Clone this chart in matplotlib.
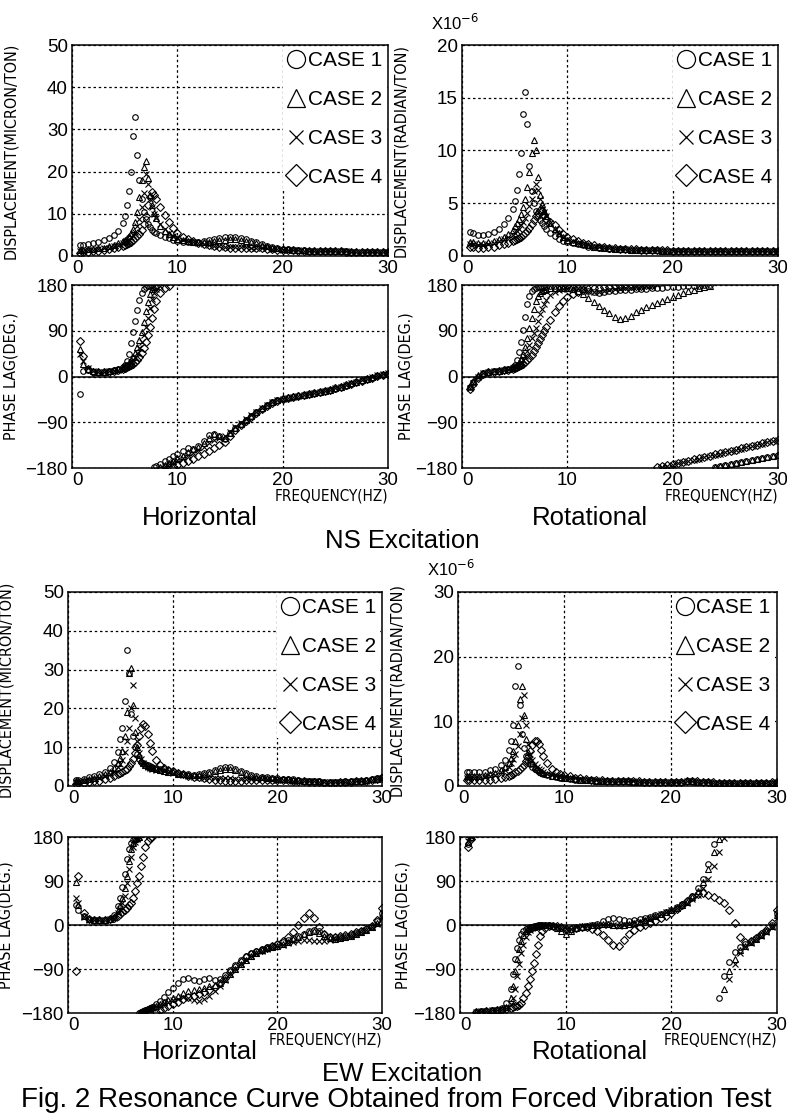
import matplotlib
matplotlib.use('Agg')
import matplotlib.pyplot as plt
from matplotlib.lines import Line2D
from matplotlib import font_manager

# frequency points (Hz) shared by all curves
freq = [0.8, 1.0, 1.5, 2.0, 2.5, 3.0, 3.5, 4.0, 4.4, 4.8,
        5.0, 5.2, 5.4, 5.6, 5.8, 6.0, 6.2, 6.4, 6.6, 6.8, 7.0, 7.2, 7.4, 7.6, 7.8, 8.0, 8.4, 8.8, 9.2, 9.6, 10.0,
        10.5, 11.0, 11.5, 12.0, 12.5, 13.0, 13.5, 14.0, 14.5, 15.0, 15.5, 16.0, 16.5, 17.0, 17.5, 18.0, 18.5, 19.0, 19.5, 20.0,
        20.5, 21.0, 21.5, 22.0, 22.5, 23.0, 23.5, 24.0, 24.5, 25.0, 25.5, 26.0, 26.5, 27.0, 27.5, 28.0, 28.5, 29.0, 29.5, 30.0]

case_labels = ['CASE 1', 'CASE 2', 'CASE 3', 'CASE 4']
x_ticks = [0, 10, 20, 30]

# ---- NS excitation, horizontal displacement (micron/ton)
ns_hor_amp_1 = [2.5, 2.6, 2.9, 3.1, 3.4, 3.7, 4.2, 5.0, 6.0, 7.8,
                9.5, 12.0, 15.5, 20.0, 28.5, 33.0, 24.0, 18.0, 13.5, 10.5, 8.8, 7.6, 6.8, 6.2, 5.8, 5.4, 4.9, 4.5, 4.2, 3.9, 3.6,
                3.4, 3.3, 3.3, 3.4, 3.6, 3.8, 4.0, 4.2, 4.4, 4.5, 4.5, 4.3, 4.0, 3.6, 3.2, 2.8, 2.4, 2.1, 1.9, 1.7,
                1.6, 1.5, 1.4, 1.4, 1.3, 1.3, 1.2, 1.2, 1.2, 1.1, 1.1, 1.1, 1.0, 1.0, 1.0, 1.0, 1.0, 1.0, 1.0, 1.0]
ns_hor_amp_2 = [1.5, 1.5, 1.6, 1.7, 1.8, 2.0, 2.3, 2.6, 3.0, 3.5,
                3.8, 4.2, 4.8, 5.5, 6.5, 8.0, 10.5, 14.0, 18.0, 21.0, 22.5, 18.5, 14.5, 12.0, 10.2, 9.0, 7.2, 6.0, 5.2, 4.6, 4.1,
                3.8, 3.5, 3.3, 3.2, 3.2, 3.3, 3.5, 3.7, 3.9, 4.0, 4.0, 3.9, 3.6, 3.3, 3.0, 2.6, 2.3, 2.0, 1.8, 1.7,
                1.6, 1.5, 1.4, 1.4, 1.3, 1.3, 1.2, 1.2, 1.2, 1.1, 1.1, 1.1, 1.0, 1.0, 1.0, 1.0, 1.0, 1.0, 1.0, 1.0]
ns_hor_amp_3 = [1.3, 1.3, 1.4, 1.5, 1.6, 1.8, 2.0, 2.3, 2.6, 3.0,
                3.2, 3.5, 3.9, 4.4, 5.0, 5.8, 7.0, 8.8, 11.5, 15.0, 19.5, 17.0, 13.5, 11.5, 10.0, 9.0, 7.5, 6.3, 5.4, 4.7, 4.2,
                3.8, 3.5, 3.2, 3.0, 2.8, 2.6, 2.4, 2.3, 2.2, 2.1, 2.1, 2.1, 2.1, 2.0, 2.0, 1.9, 1.8, 1.7, 1.6, 1.5,
                1.5, 1.4, 1.4, 1.3, 1.3, 1.3, 1.2, 1.2, 1.2, 1.1, 1.1, 1.1, 1.0, 1.0, 1.0, 1.0, 1.0, 1.0, 1.0, 1.0]
ns_hor_amp_4 = [0.8, 0.9, 1.0, 1.1, 1.2, 1.4, 1.6, 1.8, 2.1, 2.4,
                2.6, 2.8, 3.1, 3.4, 3.8, 4.2, 4.7, 5.3, 6.2, 7.5, 9.5, 12.0, 14.0, 15.2, 14.5, 13.5, 11.5, 9.6, 8.0, 6.6, 5.5,
                4.6, 4.0, 3.5, 3.1, 2.8, 2.5, 2.3, 2.2, 2.1, 2.0, 2.0, 2.0, 2.0, 1.9, 1.9, 1.8, 1.7, 1.6, 1.5, 1.5,
                1.4, 1.4, 1.3, 1.3, 1.3, 1.2, 1.2, 1.2, 1.1, 1.1, 1.1, 1.0, 1.0, 1.0, 1.0, 1.0, 1.0, 1.0, 1.0, 1.0]

# ---- NS excitation, horizontal phase lag (deg)
ns_hor_ph_1 = [-35, 10, 12, 8, 8, 9, 10, 12, 15, 18,
               22, 30, 45, 65, 88, 110, 130, 150, 165, 173, 177, 179, 179, 180, -179, -177, -172, -167, -162, -157, -152,
               -147, -140, -143, -136, -126, -116, -113, -118, -122, -112, -102, -94, -86, -78, -70, -63, -57, -51, -47, -44,
               -42, -40, -38, -37, -35, -33, -31, -29, -27, -24, -21, -18, -14, -11, -8, -5, -2, 1, 3, 5]
ns_hor_ph_2 = [55, 25, 15, 10, 9, 9, 10, 12, 14, 17,
               20, 23, 27, 32, 38, 46, 58, 72, 88, 108, 128, 147, 162, 172, 177, 179, -178, -174, -170, -166, -161,
               -156, -148, -142, -138, -130, -120, -114, -117, -120, -111, -101, -93, -85, -77, -69, -62, -56, -50, -46, -43,
               -41, -39, -37, -36, -34, -32, -30, -28, -26, -23, -20, -17, -13, -10, -7, -4, -1, 2, 4, 6]
ns_hor_ph_3 = [45, 30, 16, 10, 9, 9, 10, 11, 13, 15,
               18, 20, 23, 27, 32, 38, 46, 56, 68, 82, 98, 116, 135, 152, 165, 173, 179, -177, -173, -169, -165,
               -160, -155, -150, -145, -138, -130, -124, -120, -118, -110, -100, -92, -84, -76, -69, -62, -56, -51, -47, -44,
               -42, -40, -38, -36, -34, -32, -30, -28, -26, -23, -20, -17, -13, -10, -7, -4, -1, 2, 4, 7]
ns_hor_ph_4 = [70, 40, 14, 9, 8, 8, 9, 10, 12, 14,
               16, 18, 20, 22, 25, 28, 32, 38, 46, 56, 68, 82, 98, 115, 132, 148, 165, 175, 179, -178, -175,
               -171, -167, -162, -157, -152, -147, -141, -135, -128, -118, -106, -96, -87, -79, -71, -64, -58, -52, -48, -45,
               -42, -40, -38, -36, -34, -32, -30, -28, -26, -23, -20, -17, -14, -11, -8, -5, -2, 1, 3, 5]

# ---- NS excitation, rotational displacement (x1e-6 radian/ton)
ns_rot_amp_1 = [2.3, 2.2, 2.0, 2.0, 2.1, 2.3, 2.6, 3.0, 3.6, 4.5,
                5.2, 6.3, 7.8, 9.8, 13.5, 15.5, 12.5, 8.5, 6.2, 5.0, 4.3, 3.8, 3.4, 3.1, 2.8, 2.6, 2.2, 1.9, 1.6, 1.4, 1.3,
                1.2, 1.1, 1.0, 0.9, 0.85, 0.8, 0.75, 0.7, 0.7, 0.65, 0.65, 0.6, 0.6, 0.6, 0.55, 0.55, 0.55, 0.5, 0.5, 0.5,
                0.5, 0.5, 0.5, 0.5, 0.5, 0.5, 0.5, 0.5, 0.5, 0.5, 0.5, 0.5, 0.5, 0.5, 0.5, 0.5, 0.5, 0.5, 0.5, 0.5]
ns_rot_amp_2 = [1.3, 1.3, 1.2, 1.2, 1.3, 1.4, 1.6, 1.8, 2.1, 2.5,
                2.8, 3.1, 3.5, 4.0, 4.6, 5.4, 6.5, 8.0, 9.8, 11.0, 10.0, 7.5, 5.8, 4.9, 4.3, 3.8, 3.1, 2.6, 2.2, 1.8, 1.5,
                1.3, 1.2, 1.1, 1.0, 0.9, 0.85, 0.8, 0.75, 0.7, 0.7, 0.65, 0.6, 0.6, 0.6, 0.55, 0.55, 0.55, 0.5, 0.5, 0.5,
                0.5, 0.5, 0.5, 0.5, 0.5, 0.5, 0.5, 0.5, 0.5, 0.5, 0.5, 0.5, 0.5, 0.5, 0.5, 0.5, 0.5, 0.5, 0.5, 0.5]
ns_rot_amp_3 = [1.1, 1.1, 1.0, 1.0, 1.1, 1.2, 1.4, 1.6, 1.8, 2.0,
                2.2, 2.4, 2.6, 2.9, 3.2, 3.6, 4.1, 4.7, 5.4, 6.2, 6.8, 6.3, 5.4, 4.7, 4.2, 3.8, 3.1, 2.6, 2.2, 1.8, 1.6,
                1.4, 1.2, 1.1, 1.0, 0.9, 0.85, 0.8, 0.75, 0.7, 0.7, 0.65, 0.6, 0.6, 0.6, 0.55, 0.55, 0.55, 0.5, 0.5, 0.5,
                0.5, 0.5, 0.5, 0.5, 0.5, 0.5, 0.5, 0.5, 0.5, 0.5, 0.5, 0.5, 0.5, 0.5, 0.5, 0.5, 0.5, 0.5, 0.5, 0.5]
ns_rot_amp_4 = [0.9, 0.9, 0.8, 0.8, 0.9, 0.9, 1.0, 1.1, 1.2, 1.4,
                1.5, 1.6, 1.7, 1.8, 2.0, 2.2, 2.4, 2.7, 3.0, 3.4, 3.8, 4.1, 4.4, 4.3, 3.9, 3.5, 3.2, 2.9, 2.5, 2.1, 1.8,
                1.6, 1.4, 1.2, 1.1, 1.0, 0.9, 0.85, 0.8, 0.75, 0.7, 0.7, 0.65, 0.65, 0.6, 0.6, 0.6, 0.55, 0.55, 0.55, 0.5,
                0.5, 0.5, 0.5, 0.5, 0.5, 0.5, 0.5, 0.5, 0.5, 0.5, 0.5, 0.5, 0.5, 0.5, 0.5, 0.5, 0.5, 0.5, 0.5, 0.5]

# ---- NS excitation, rotational phase lag (deg)
ns_rot_ph_1 = [-20, -10, 0, 6, 8, 10, 11, 13, 15, 18,
               22, 32, 48, 68, 92, 118, 142, 158, 168, 173, 175, 176, 176, 177, 177, 177, 178, 178, 178, 178, 178,
               177, 175, 172, 169, 166, 165, 166, 168, 169, 170, 170, 171, 172, 172, 173, 174, 175, 175, 176, 177,
               177, 178, 178, 179, 179, 180, 180, -179, -176, -174, -172, -170, -168, -166, -164, -162, -160, -158, -156, -154]
ns_rot_ph_2 = [-18, -8, 2, 7, 9, 10, 11, 12, 14, 16,
               19, 22, 27, 34, 44, 58, 75, 95, 115, 133, 148, 158, 164, 168, 170, 172, 174, 175, 175, 175, 174,
               172, 168, 162, 155, 147, 139, 131, 124, 118, 114, 115, 120, 126, 131, 136, 141, 145, 149, 153, 156,
               160, 164, 168, 171, 174, 177, 179, -179, -177, -175, -173, -171, -169, -167, -165, -163, -161, -159, -157, -155]
ns_rot_ph_3 = [-22, -12, 0, 6, 8, 10, 11, 13, 14, 16,
               18, 20, 23, 27, 32, 40, 50, 62, 75, 85, 96, 110, 122, 133, 142, 150, 160, 166, 170, 172, 173,
               174, 175, 172, 168, 166, 167, 169, 171, 172, 173, 174, 175, 176, 177, 178, 179, 180, -178, -176, -174,
               -171, -169, -167, -164, -162, -159, -157, -154, -152, -149, -147, -144, -142, -139, -137, -134, -132, -129, -127, -124]
ns_rot_ph_4 = [-24, -14, -2, 5, 8, 9, 10, 12, 13, 15,
               16, 18, 20, 22, 25, 28, 32, 37, 43, 50, 58, 66, 74, 82, 90, 98, 112, 126, 138, 148, 156,
               162, 167, 170, 172, 174, 175, 176, 177, 178, 178, 178, 179, 179, 179, 180, 180, -179, -177, -175, -173,
               -171, -168, -166, -163, -161, -158, -156, -153, -151, -149, -146, -144, -141, -139, -136, -134, -131, -129, -127, -125]

# ---- EW excitation, horizontal displacement (micron/ton)
ew_hor_amp_1 = [1.5, 1.6, 1.9, 2.2, 2.6, 3.0, 3.6, 4.6, 6.2, 8.8,
                12.0, 15.0, 22.0, 35.0, 29.0, 18.5, 13.0, 10.0, 8.2, 7.0, 6.3, 5.9, 5.6, 5.3, 5.1, 4.9, 4.6, 4.4, 4.3, 4.1, 3.8,
                3.4, 3.1, 3.0, 2.9, 3.0, 3.3, 3.7, 4.2, 4.7, 5.0, 4.9, 4.5, 3.9, 3.3, 2.9, 2.6, 2.4, 2.2, 2.1, 2.0,
                1.9, 1.8, 1.7, 1.6, 1.4, 1.3, 1.2, 1.2, 1.1, 1.1, 1.1, 1.1, 1.2, 1.2, 1.3, 1.4, 1.6, 1.8, 2.0, 2.3]
ew_hor_amp_2 = [1.2, 1.3, 1.5, 1.8, 2.1, 2.5, 3.0, 3.7, 4.6, 6.0,
                7.2, 9.0, 13.0, 19.0, 29.0, 30.5, 21.0, 14.0, 10.0, 8.0, 6.8, 6.0, 5.5, 5.1, 4.8, 4.6, 4.3, 4.1, 3.9, 3.7, 3.5,
                3.2, 3.0, 2.9, 2.8, 2.9, 3.1, 3.4, 3.8, 4.2, 4.5, 4.4, 4.0, 3.5, 3.0, 2.7, 2.4, 2.2, 2.1, 2.0, 1.9,
                1.8, 1.7, 1.6, 1.5, 1.4, 1.3, 1.2, 1.2, 1.1, 1.1, 1.1, 1.1, 1.1, 1.2, 1.3, 1.4, 1.5, 1.7, 1.9, 2.2]
ew_hor_amp_3 = [1.0, 1.1, 1.3, 1.5, 1.8, 2.1, 2.5, 3.1, 3.8, 4.8,
                5.6, 6.8, 8.8, 11.5, 15.0, 20.0, 26.0, 17.5, 11.5, 8.5, 7.0, 6.0, 5.4, 5.0, 4.7, 4.5, 4.2, 4.0, 3.8, 3.6, 3.4,
                3.1, 2.8, 2.6, 2.4, 2.2, 2.1, 2.0, 2.0, 2.0, 2.0, 2.0, 1.9, 1.9, 1.9, 1.8, 1.8, 1.7, 1.7, 1.6, 1.6,
                1.5, 1.5, 1.4, 1.4, 1.3, 1.2, 1.2, 1.1, 1.1, 1.0, 1.0, 1.0, 1.1, 1.1, 1.2, 1.3, 1.4, 1.6, 1.8, 2.0]
ew_hor_amp_4 = [0.6, 0.7, 0.8, 1.0, 1.2, 1.4, 1.7, 2.1, 2.5, 3.0,
                3.3, 3.6, 4.0, 4.5, 5.1, 5.9, 7.0, 8.5, 10.5, 13.0, 15.0, 16.0, 15.5, 13.5, 11.0, 9.0, 6.8, 5.5, 4.7, 4.2, 3.8,
                3.4, 3.0, 2.7, 2.4, 2.2, 2.0, 1.8, 1.6, 1.5, 1.4, 1.4, 1.4, 1.4, 1.5, 1.5, 1.6, 1.6, 1.6, 1.6, 1.6,
                1.5, 1.5, 1.4, 1.3, 1.2, 1.1, 1.0, 1.0, 0.9, 0.9, 0.9, 1.0, 1.0, 1.1, 1.2, 1.3, 1.4, 1.6, 1.8, 2.1]

# ---- EW excitation, horizontal phase lag (deg)
ew_hor_ph_1 = [40, 30, 18, 12, 10, 10, 11, 13, 20, 38,
               55, 78, 105, 135, 155, 168, 174, 177, 179, -179, -177, -175, -173, -171, -169, -167, -162, -156, -148, -138, -128,
               -118, -110, -108, -112, -114, -110, -108, -112, -110, -102, -92, -82, -72, -64, -58, -53, -49, -45, -42, -38,
               -34, -30, -26, -22, -18, -12, -10, -12, -18, -24, -25, -24, -22, -20, -17, -13, -8, -2, 8, 25]
ew_hor_ph_2 = [88, 40, 18, 12, 10, 10, 11, 12, 16, 28,
               40, 55, 75, 100, 130, 155, 168, 175, 178, 180, -178, -176, -174, -172, -170, -168, -165, -161, -157, -153, -149,
               -145, -140, -135, -132, -130, -128, -125, -122, -118, -110, -100, -90, -80, -71, -63, -57, -52, -48, -45, -42,
               -38, -34, -29, -24, -18, -14, -12, -16, -22, -27, -28, -27, -25, -22, -19, -15, -10, -4, 5, 20]
ew_hor_ph_3 = [55, 45, 17, 11, 10, 10, 11, 12, 15, 24,
               33, 45, 60, 85, 115, 140, 160, 170, 176, 179, -179, -177, -175, -173, -171, -169, -166, -163, -160, -157, -154,
               -151, -148, -150, -153, -155, -152, -145, -136, -124, -112, -100, -90, -80, -71, -64, -58, -53, -49, -46, -43,
               -40, -37, -34, -32, -31, -31, -32, -33, -32, -30, -28, -26, -24, -22, -19, -15, -11, -5, 3, 15]
ew_hor_ph_4 = [-95, 100, 25, 12, 10, 10, 11, 12, 14, 18,
               22, 26, 30, 35, 40, 45, 55, 70, 85, 100, 120, 140, 160, 172, 178, 180, -178, -174, -170, -166, -162,
               -158, -152, -148, -145, -142, -138, -133, -126, -118, -108, -97, -86, -75, -66, -60, -55, -51, -47, -43, -38,
               -32, -24, -14, 0, 15, 25, 15, -5, -18, -24, -24, -22, -20, -18, -15, -12, -8, -2, 10, 35]

# ---- EW excitation, rotational displacement (x1e-6 radian/ton)
ew_rot_amp_1 = [2.2, 2.2, 2.1, 2.1, 2.2, 2.4, 2.7, 3.2, 4.0, 5.5,
                7.0, 9.5, 15.5, 18.5, 12.5, 8.0, 5.8, 4.6, 3.9, 3.4, 3.0, 2.7, 2.4, 2.2, 2.0, 1.9, 1.7, 1.5, 1.4, 1.3, 1.2,
                1.1, 1.0, 1.0, 0.9, 0.9, 0.85, 0.8, 0.8, 0.75, 0.7, 0.7, 0.7, 0.65, 0.65, 0.65, 0.6, 0.6, 0.6, 0.6, 0.6,
                0.6, 0.65, 0.7, 0.7, 0.65, 0.6, 0.55, 0.5, 0.45, 0.4, 0.4, 0.4, 0.4, 0.4, 0.4, 0.45, 0.45, 0.5, 0.5, 0.55]
ew_rot_amp_2 = [1.6, 1.6, 1.6, 1.6, 1.7, 1.8, 2.0, 2.4, 2.9, 3.6,
                4.4, 5.4, 7.0, 9.5, 13.5, 15.5, 11.0, 7.2, 5.2, 4.2, 3.5, 3.0, 2.6, 2.4, 2.2, 2.0, 1.8, 1.6, 1.5, 1.4, 1.3,
                1.2, 1.1, 1.0, 1.0, 0.9, 0.85, 0.8, 0.8, 0.75, 0.7, 0.7, 0.7, 0.65, 0.65, 0.65, 0.6, 0.6, 0.6, 0.6, 0.6,
                0.6, 0.65, 0.7, 0.7, 0.65, 0.6, 0.55, 0.5, 0.45, 0.4, 0.4, 0.4, 0.4, 0.4, 0.4, 0.45, 0.45, 0.5, 0.5, 0.55]
ew_rot_amp_3 = [1.3, 1.3, 1.3, 1.3, 1.4, 1.5, 1.7, 2.1, 2.5, 3.0,
                3.5, 4.2, 5.0, 6.2, 8.0, 10.5, 14.0, 9.5, 6.5, 5.0, 4.0, 3.4, 3.0, 2.7, 2.4, 2.2, 1.9, 1.7, 1.6, 1.5, 1.4,
                1.3, 1.2, 1.1, 1.0, 1.0, 0.9, 0.85, 0.8, 0.8, 0.75, 0.7, 0.7, 0.7, 0.65, 0.65, 0.65, 0.6, 0.6, 0.6, 0.6,
                0.6, 0.65, 0.7, 0.7, 0.65, 0.6, 0.55, 0.5, 0.45, 0.4, 0.4, 0.4, 0.4, 0.4, 0.4, 0.45, 0.45, 0.5, 0.5, 0.55]
ew_rot_amp_4 = [1.0, 1.0, 0.9, 0.9, 0.9, 1.0, 1.1, 1.2, 1.4, 1.6,
                1.7, 1.9, 2.1, 2.3, 2.6, 2.9, 3.3, 3.8, 4.5, 5.4, 6.3, 6.9, 7.0, 6.5, 5.6, 4.7, 3.5, 2.7, 2.2, 1.9, 1.7,
                1.5, 1.3, 1.2, 1.1, 1.0, 0.95, 0.9, 0.85, 0.8, 0.8, 0.75, 0.7, 0.7, 0.7, 0.65, 0.65, 0.65, 0.6, 0.6, 0.6,
                0.6, 0.65, 0.7, 0.75, 0.7, 0.65, 0.6, 0.55, 0.5, 0.45, 0.45, 0.4, 0.4, 0.4, 0.4, 0.45, 0.45, 0.5, 0.55, 0.6]

# ---- EW excitation, rotational phase lag (deg)
ew_rot_ph_1 = [165, 178, -178, -176, -175, -174, -173, -170, -160, -130,
               -100, -70, -48, -30, -18, -12, -8, -6, -5, -4, -3, -2, -1, 0, 0, 0, -1, -2, -4, -6, -8,
               -8, -6, -4, -2, 0, 3, 8, 13, 15, 13, 10, 9, 10, 12, 14, 17, 20, 23, 27, 31,
               36, 42, 50, 60, 75, 95, 125, 165, -150, -105, -75, -55, -45, -38, -32, -26, -20, -12, 0, 25]
ew_rot_ph_2 = [170, 179, -177, -176, -175, -174, -173, -172, -168, -150,
               -125, -95, -70, -50, -32, -20, -13, -9, -6, -5, -4, -3, -2, -1, 0, 0, -1, -2, -6, -12, -18,
               -12, -7, -4, -2, 0, 1, 2, 2, 1, 0, 1, 2, 4, 7, 10, 14, 18, 22, 26, 30,
               35, 41, 48, 57, 70, 88, 115, 150, 175, -130, -95, -70, -52, -42, -34, -28, -21, -13, -2, 20]
ew_rot_ph_3 = [172, 180, -177, -176, -175, -174, -173, -172, -170, -162,
               -150, -130, -105, -80, -58, -40, -25, -15, -10, -7, -5, -4, -3, -2, -1, 0, -1, -2, -4, -6, -9,
               -8, -5, -3, -2, -1, 0, 0, 0, -1, -2, 0, 3, 6, 9, 12, 15, 19, 23, 27, 31,
               35, 40, 46, 53, 62, 75, 95, 120, 150, 178, -110, -80, -58, -45, -36, -29, -22, -14, -4, 15]
ew_rot_ph_4 = [160, 176, -178, -177, -176, -175, -174, -173, -171, -169,
               -168, -166, -165, -163, -160, -150, -140, -125, -110, -95, -78, -60, -40, -22, -12, -6, -3, -2, -3, -5, -8,
               -8, -6, -4, -5, -8, -12, -20, -30, -40, -43, -30, -18, -10, -4, 0, 5, 9, 14, 19, 25,
               32, 40, 50, 58, 64, 66, 62, 58, 52, 45, 30, 5, -25, -35, -32, -26, -19, -10, 5, 30]

W, H = 787, 1118
markers = ['o', '^', 'x', 'D']
msizes = [4.0, 4.2, 4.0, 3.6]
leg_sizes = [13, 13, 10, 11]

names = {f.name for f in font_manager.fontManager.ttflist}
if 'Liberation Sans Narrow' in names:
    NARROW = dict(family='Liberation Sans Narrow')
else:
    NARROW = dict(family='DejaVu Sans', stretch='condensed')
plt.rcParams['font.family'] = ['Liberation Sans', 'DejaVu Sans']


def px_axes(fig, left, right, top, bottom):
    # axes placed by its pixel box in the reference
    return fig.add_axes([left / W, 1 - bottom / H, (right - left) / W, (bottom - top) / H])


def style_axes(ax, yticks):
    ax.set_xlim(0, 30)
    ax.set_ylim(yticks[0], yticks[-1])
    ax.set_xticks(x_ticks)
    ax.set_xticklabels([str(t) for t in x_ticks])
    ax.get_xticklabels()[0].set_horizontalalignment('left')  # keep clear of the y "0"
    ax.set_yticks(yticks)
    ax.grid(True, color='black', linestyle=(0, (2, 2.2)), linewidth=0.9)
    ax.set_axisbelow(True)
    ax.tick_params(length=0, labelsize=13.5)
    ax.tick_params(axis='x', pad=3)
    ax.tick_params(axis='y', pad=3)
    for s in ax.spines.values():
        s.set_linewidth(1.1)


def plot_cases(ax, series):
    for i, vals in enumerate(series):
        ax.plot(freq, vals, ls='none', marker=markers[i], ms=msizes[i],
                mfc='none', mec='black', mew=0.8, zorder=3)


def amp_panel(fig, box, series, yticks, ylabel, lab_x, scale_text=False):
    ax = px_axes(fig, *box)
    style_axes(ax, yticks)
    plot_cases(ax, series)
    handles = [Line2D([], [], ls='none', marker=markers[i], ms=leg_sizes[i],
                      mfc='none', mec='black', mew=0.9) for i in range(4)]
    leg = ax.legend(handles, case_labels, loc='upper right', fontsize=15, frameon=True,
                    fancybox=False, framealpha=1, edgecolor='none', facecolor='white',
                    handlelength=0.9, handletextpad=0.1, labelspacing=0.95,
                    borderpad=0.2, borderaxespad=0.1)
    leg.set_zorder(5)
    ax.set_ylabel(ylabel, fontsize=11.5, **NARROW)
    ax.yaxis.set_label_coords(lab_x, 0.5)
    if scale_text:
        ax.annotate('X10$^{-6}$', xy=(0, 1), xycoords='axes fraction',
                    xytext=(-22, 9), textcoords='offset points',
                    fontsize=12, ha='left', va='bottom')
    return ax


def phase_panel(fig, box, series, lab_x):
    ax = px_axes(fig, *box)
    style_axes(ax, [-180, -90, 0, 90, 180])
    ax.axhline(0, color='black', lw=1.1, zorder=2)
    plot_cases(ax, series)
    ax.set_ylabel('PHASE LAG(DEG.)', fontsize=11.5, **NARROW)
    ax.yaxis.set_label_coords(lab_x, 0.5)
    ax.text(1.0, -0.11, 'FREQUENCY(HZ)', transform=ax.transAxes, fontsize=11,
            ha='right', va='top', **NARROW)
    return ax


def fig_text(x, y, s, size):
    plt.gcf().text(x / W, 1 - y / H, s, fontsize=size, ha='center', va='center')


def main():
    fig = plt.figure(figsize=(W / 100, H / 100), dpi=100)

    amp_panel(fig, (72, 388, 45, 256),
              [ns_hor_amp_1, ns_hor_amp_2, ns_hor_amp_3, ns_hor_amp_4],
              [0, 10, 20, 30, 40, 50], 'DISPLACEMENT(MICRON/TON)', -0.17)
    phase_panel(fig, (72, 388, 285, 468),
                [ns_hor_ph_1, ns_hor_ph_2, ns_hor_ph_3, ns_hor_ph_4], -0.17)
    amp_panel(fig, (462, 778, 45, 256),
              [ns_rot_amp_1, ns_rot_amp_2, ns_rot_amp_3, ns_rot_amp_4],
              [0, 5, 10, 15, 20], 'DISPLACEMENT(RADIAN/TON)', -0.17, scale_text=True)
    phase_panel(fig, (462, 778, 285, 468),
                [ns_rot_ph_1, ns_rot_ph_2, ns_rot_ph_3, ns_rot_ph_4], -0.155)

    amp_panel(fig, (68, 382, 592, 786),
              [ew_hor_amp_1, ew_hor_amp_2, ew_hor_amp_3, ew_hor_amp_4],
              [0, 10, 20, 30, 40, 50], 'DISPLACEMENT(MICRON/TON)', -0.175)
    phase_panel(fig, (68, 382, 837, 1013),
                [ew_hor_ph_1, ew_hor_ph_2, ew_hor_ph_3, ew_hor_ph_4], -0.175)
    amp_panel(fig, (458, 777, 592, 786),
              [ew_rot_amp_1, ew_rot_amp_2, ew_rot_amp_3, ew_rot_amp_4],
              [0, 10, 20, 30], 'DISPLACEMENT(RADIAN/TON)', -0.17, scale_text=True)
    phase_panel(fig, (460, 777, 837, 1013),
                [ew_rot_ph_1, ew_rot_ph_2, ew_rot_ph_3, ew_rot_ph_4], -0.155)

    fig_text(200, 518, 'Horizontal', 18.5)
    fig_text(590, 518, 'Rotational', 18.5)
    fig_text(402, 541, 'NS Excitation', 18.5)
    fig_text(200, 1052, 'Horizontal', 18.5)
    fig_text(590, 1052, 'Rotational', 18.5)
    fig_text(402, 1074, 'EW Excitation', 18.5)
    fig_text(396, 1100, 'Fig. 2 Resonance Curve Obtained from Forced Vibration Test', 20)

    fig.savefig('out.png', dpi=100)


if __name__ == "__main__":
    main()
